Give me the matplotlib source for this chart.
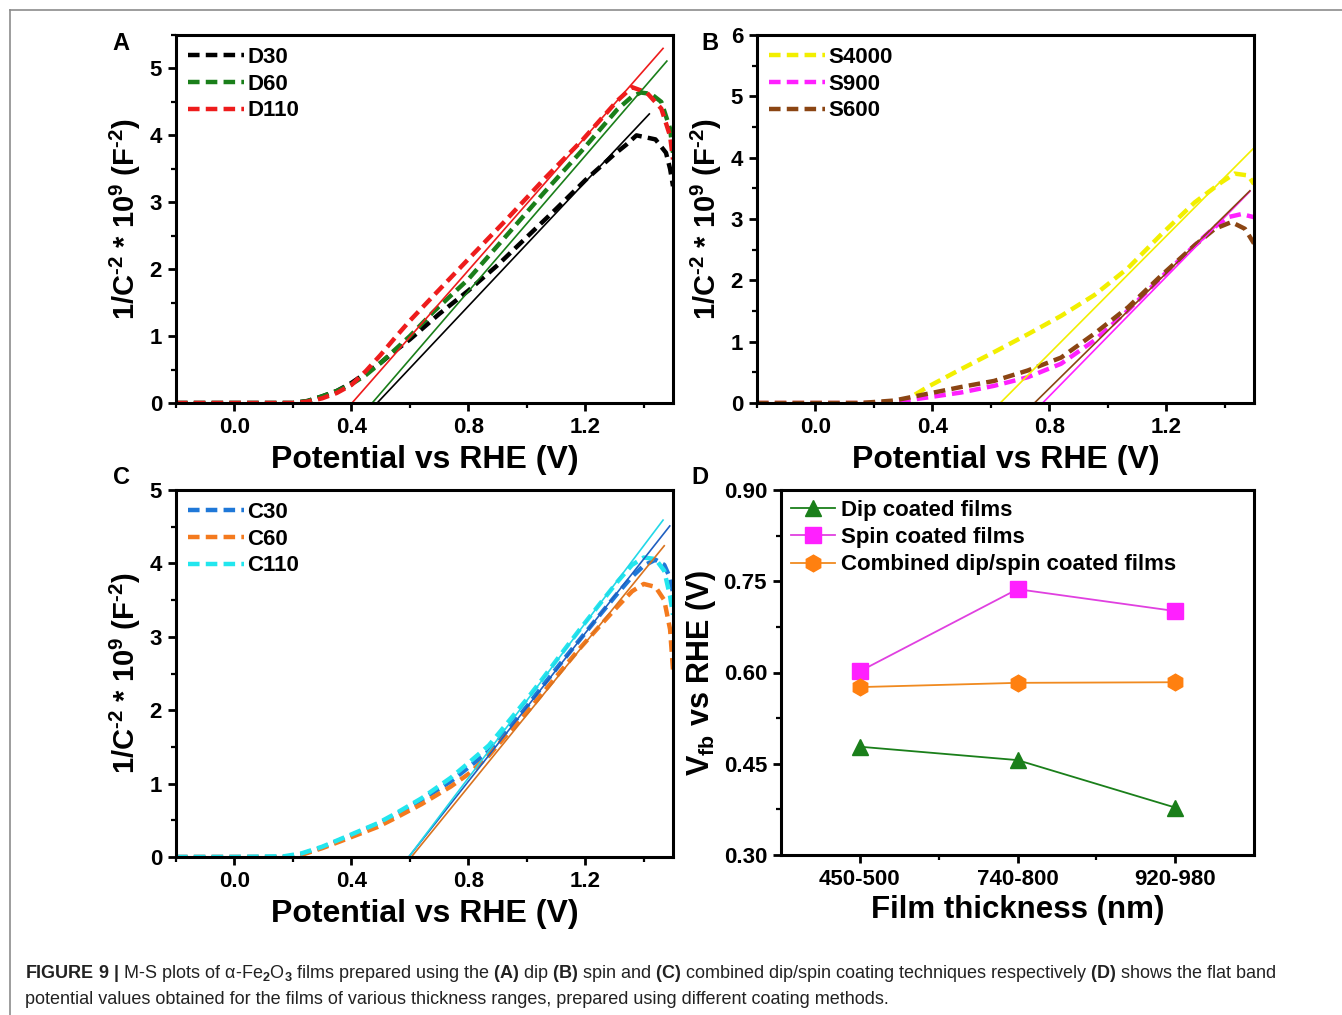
import matplotlib
matplotlib.use('Agg')
import matplotlib.pyplot as plt
from matplotlib.lines import Line2D
from matplotlib.ticker import MultipleLocator, FormatStrFormatter, FixedLocator

plt.rcParams['font.family'] = ['Liberation Sans', 'DejaVu Sans']
plt.rcParams['font.weight'] = 'bold'
plt.rcParams['mathtext.fontset'] = 'custom'
plt.rcParams['mathtext.rm'] = 'Liberation Sans'
plt.rcParams['mathtext.bf'] = 'Liberation Sans:bold'
plt.rcParams['mathtext.it'] = 'Liberation Sans:italic'
plt.rcParams['axes.unicode_minus'] = False

# ---------------- Panel A (dip coated) ----------------
a_labels = ['D30', 'D60', 'D110']
a_colors = ['#000000', '#1a7f1a', '#ee1c1c']
d30_x = [-0.2, 0.0, 0.2, 0.25, 0.3, 0.35, 0.4, 0.45, 0.5, 0.55, 0.6, 0.7, 0.8, 0.9, 1.0, 1.1, 1.2, 1.3, 1.34, 1.375, 1.44, 1.476, 1.49, 1.5]
d30_y = [0, 0, 0, 0.03, 0.1, 0.18, 0.3, 0.45, 0.6, 0.78, 0.95, 1.33, 1.68, 2.06, 2.48, 2.9, 3.33, 3.72, 3.86, 4.0, 3.94, 3.74, 3.5, 3.24]
d60_x = [-0.2, 0.0, 0.2, 0.25, 0.3, 0.35, 0.4, 0.45, 0.5, 0.55, 0.6, 0.68, 0.8, 0.93, 1.06, 1.19, 1.31, 1.36, 1.39, 1.425, 1.46, 1.49, 1.5]
d60_y = [0, 0, 0, 0.03, 0.1, 0.18, 0.28, 0.42, 0.6, 0.8, 1.0, 1.36, 1.85, 2.5, 3.15, 3.78, 4.39, 4.58, 4.64, 4.62, 4.5, 4.1, 3.74]
d110_x = [-0.2, 0.0, 0.2, 0.25, 0.3, 0.35, 0.4, 0.45, 0.5, 0.55, 0.6, 0.68, 0.8, 0.93, 1.06, 1.19, 1.31, 1.36, 1.41, 1.46, 1.49, 1.5]
d110_y = [0, 0, 0, 0.02, 0.07, 0.15, 0.27, 0.48, 0.72, 0.98, 1.23, 1.6, 2.15, 2.74, 3.35, 3.93, 4.52, 4.72, 4.64, 4.4, 3.99, 3.64]
a_fit_vfb = [0.488, 0.471, 0.402]
a_fit_end_x = [1.419, 1.479, 1.466]
a_fit_end_y = [4.32, 5.11, 5.30]

# ---------------- Panel B (spin coated) ----------------
b_labels = ['S4000', 'S900', 'S600']
b_colors = ['#f2ef00', '#ff20ff', '#8b4513']
s4000_x = [-0.2, 0.0, 0.2, 0.3, 0.383, 0.497, 0.611, 0.726, 0.84, 0.954, 1.069, 1.183, 1.297, 1.389, 1.434, 1.48, 1.5]
s4000_y = [0, 0, 0, 0.02, 0.26, 0.55, 0.83, 1.12, 1.42, 1.76, 2.2, 2.75, 3.27, 3.6, 3.74, 3.71, 3.57]
s900_x = [-0.2, 0.0, 0.2, 0.269, 0.383, 0.497, 0.611, 0.726, 0.84, 0.954, 1.069, 1.183, 1.297, 1.366, 1.411, 1.457, 1.5]
s900_y = [0, 0, 0, 0.01, 0.09, 0.17, 0.28, 0.42, 0.64, 1.02, 1.51, 2.05, 2.57, 2.87, 3.03, 3.08, 3.03]
s600_x = [-0.2, 0.0, 0.154, 0.269, 0.383, 0.497, 0.611, 0.726, 0.84, 0.954, 1.069, 1.183, 1.297, 1.366, 1.423, 1.469, 1.5]
s600_y = [0, 0, 0, 0.04, 0.15, 0.26, 0.36, 0.53, 0.74, 1.13, 1.56, 2.08, 2.57, 2.84, 2.95, 2.84, 2.6]
b_fit_vfb = [0.632, 0.777, 0.749]
b_fit_end_x = [1.5, 1.486, 1.486]
b_fit_end_y = [4.16, 3.45, 3.46]

# ---------------- Panel C (combined dip/spin) ----------------
c_labels = ['C30', 'C60', 'C110']
c_colors = ['#1f78d8', '#f47a1e', '#22e6ee']
c_fit_colors = ['#1f5fc0', '#d9731f', '#22d8e8']
c_x = [-0.2, 0.0, 0.17, 0.23, 0.3, 0.36, 0.425, 0.49, 0.55, 0.64, 0.74, 0.8, 0.87, 0.93, 1.0, 1.058, 1.12, 1.185, 1.25, 1.312, 1.36, 1.40, 1.44, 1.47, 1.49, 1.5]
c30_y = [0, 0, 0.0, 0.04, 0.13, 0.23, 0.34, 0.45, 0.57, 0.78, 1.03, 1.22, 1.44, 1.71, 2.05, 2.35, 2.66, 2.98, 3.3, 3.6, 3.82, 3.97, 4.05, 3.98, 3.8, 3.6]
c60_y = [0, 0, 0.0, 0.03, 0.12, 0.21, 0.31, 0.41, 0.53, 0.72, 0.96, 1.13, 1.38, 1.66, 1.97, 2.25, 2.55, 2.86, 3.15, 3.42, 3.62, 3.72, 3.68, 3.5, 3.1, 2.55]
c110_y = [0, 0, 0.01, 0.05, 0.14, 0.24, 0.35, 0.46, 0.59, 0.8, 1.08, 1.28, 1.52, 1.81, 2.15, 2.45, 2.78, 3.12, 3.45, 3.76, 3.98, 4.08, 4.06, 3.9, 3.55, 3.3]
c_fit_vfb = [0.596, 0.605, 0.596]
c_fit_end_x = [1.489, 1.47, 1.466]
c_fit_end_y = [4.51, 4.24, 4.59]

# ---------------- Panel D (flat band potentials) ----------------
thickness = ['450-500', '740-800', '920-980']
dip_vfb = [0.478, 0.456, 0.378]
spin_vfb = [0.602, 0.737, 0.701]
comb_vfb = [0.576, 0.583, 0.584]
d_labels = ['Dip coated films', 'Spin coated films', 'Combined dip/spin coated films']
d_colors = ['#1a7f1a', '#ff20ff', '#ff8010']
d_line_colors = ['#1a7f1a', '#e040e0', '#f08a20']
d_markers = ['^', 's', 'h']

W, H = 1342, 1015
fig = plt.figure(figsize=(W / 100, H / 100), dpi=100)


def box(l, t, r, b):
    return [l / W, 1 - b / H, (r - l) / W, (b - t) / H]


axA = fig.add_axes(box(176, 35, 673, 403))
axB = fig.add_axes(box(757, 35, 1254, 403))
axC = fig.add_axes(box(176, 490, 673, 857))
axD = fig.add_axes(box(781, 490, 1254, 855))

TICK = 16
LEG = 16
HY = '\u2010'
ylab_ms = (r"1/C$^{\mathbf{" + HY + r"2}}$ * 10$^{\mathbf{9}}$ (F$^{\mathbf{" + HY + r"2}}$)")


def style(ax):
    for s in ax.spines.values():
        s.set_linewidth(2.2)
    ax.tick_params(which='major', direction='out', length=6, width=2, labelsize=TICK, pad=4)
    ax.tick_params(which='minor', direction='out', length=3.5, width=1.6)
    for lab in ax.get_xticklabels() + ax.get_yticklabels():
        lab.set_fontweight('bold')


def ms_panel(ax, xs, ys, labels, colors, vfb, ex, ey, fitcolors, ymax):
    for x, y, lab, c in zip(xs, ys, labels, colors):
        ax.plot(x, y, ls=(0, (2.6, 1.4)), lw=3.2, color=c, label=lab)
    for v, x1, y1, c in zip(vfb, ex, ey, fitcolors):
        ax.plot([v, x1], [0, y1], color=c, lw=1.2)
    ax.set_xlim(-0.2, 1.5)
    ax.set_ylim(0, ymax)
    ax.xaxis.set_major_locator(FixedLocator([0.0, 0.4, 0.8, 1.2]))
    ax.xaxis.set_minor_locator(FixedLocator([-0.2, 0.2, 0.6, 1.0, 1.4]))
    ax.xaxis.set_major_formatter(FormatStrFormatter('%.1f'))
    ax.yaxis.set_major_locator(MultipleLocator(1))
    ax.yaxis.set_minor_locator(MultipleLocator(0.5))
    ax.yaxis.set_major_formatter(FormatStrFormatter('%d'))
    ax.set_xlabel('Potential vs RHE (V)', fontsize=23, fontweight='bold', labelpad=5)
    ax.set_ylabel(ylab_ms, fontsize=21, fontweight='bold', labelpad=5)
    leg = ax.legend(loc='upper left', frameon=False, fontsize=LEG, handlelength=2.5,
                    handletextpad=0.15, labelspacing=0.25, borderaxespad=0.15)
    for t in leg.get_texts():
        t.set_fontweight('bold')
    style(ax)


ms_panel(axA, [d30_x, d60_x, d110_x], [d30_y, d60_y, d110_y], a_labels, a_colors,
         a_fit_vfb, a_fit_end_x, a_fit_end_y, a_colors, 5.5)
ms_panel(axB, [s4000_x, s900_x, s600_x], [s4000_y, s900_y, s600_y], b_labels, b_colors,
         b_fit_vfb, b_fit_end_x, b_fit_end_y, b_colors, 6)
ms_panel(axC, [c_x, c_x, c_x], [c30_y, c60_y, c110_y], c_labels, c_colors,
         c_fit_vfb, c_fit_end_x, c_fit_end_y, c_fit_colors, 5)

# Panel D
xpos = list(range(1, len(thickness) + 1))
for vals, lab, c, lc, m in zip([dip_vfb, spin_vfb, comb_vfb], d_labels, d_colors, d_line_colors, d_markers):
    axD.plot(xpos, vals, color=lc, lw=1.3, marker=m, ms=12 if m == 'h' else 11,
             mfc=c, mec=c, label=lab)
axD.set_xlim(0.5, 3.5)
axD.set_ylim(0.30, 0.90)
axD.xaxis.set_major_locator(FixedLocator(xpos))
axD.xaxis.set_minor_locator(FixedLocator([1.5, 2.5]))
axD.set_xticklabels(thickness)
axD.yaxis.set_major_locator(MultipleLocator(0.15))
axD.yaxis.set_minor_locator(MultipleLocator(0.075))
axD.yaxis.set_major_formatter(FormatStrFormatter('%.2f'))
axD.set_xlabel('Film thickness (nm)', fontsize=22.5, fontweight='bold', labelpad=4)
axD.set_ylabel(r"V$_{\mathbf{fb}}$ vs RHE (V)", fontsize=22, fontweight='bold', labelpad=4)
legD = axD.legend(loc='upper left', frameon=False, fontsize=LEG, handlelength=2.0,
                  handletextpad=0.25, labelspacing=0.28, borderaxespad=0.05, numpoints=1)
for t in legD.get_texts():
    t.set_fontweight('bold')
style(axD)

# panel letters
for txt, x, y in [('A', 121, 43), ('B', 710, 43), ('C', 121, 478), ('D', 700, 478)]:
    fig.text(x / W, 1 - y / H, txt, fontsize=17, fontweight='bold', ha='center', va='center')

# frame lines
fig.add_artist(Line2D([10 / W, 1], [1 - 10 / H, 1 - 10 / H], transform=fig.transFigure,
                      color='#8c8c8c', lw=1.2))
fig.add_artist(Line2D([10 / W, 10 / W], [1 - 10 / H, 0], transform=fig.transFigure,
                      color='#8c8c8c', lw=1.2))

cap1 = (r"$\mathbf{FIGURE\ 9\ |}$ M-S plots of α-Fe$_\mathrm{2}$O$_\mathrm{3}$ films prepared using the "
        r"$\mathbf{(A)}$ dip $\mathbf{(B)}$ spin and $\mathbf{(C)}$ combined dip/spin coating techniques "
        r"respectively $\mathbf{(D)}$ shows the flat band")
cap2 = "potential values obtained for the films of various thickness ranges, prepared using different coating methods."
fig.text(25 / W, 1 - 973 / H, cap1, fontsize=13, fontweight='normal', color='#222222', va='center')
fig.text(25 / W, 1 - 999 / H, cap2, fontsize=13, fontweight='normal', color='#222222', va='center')

fig.savefig('out.png', dpi=100)
